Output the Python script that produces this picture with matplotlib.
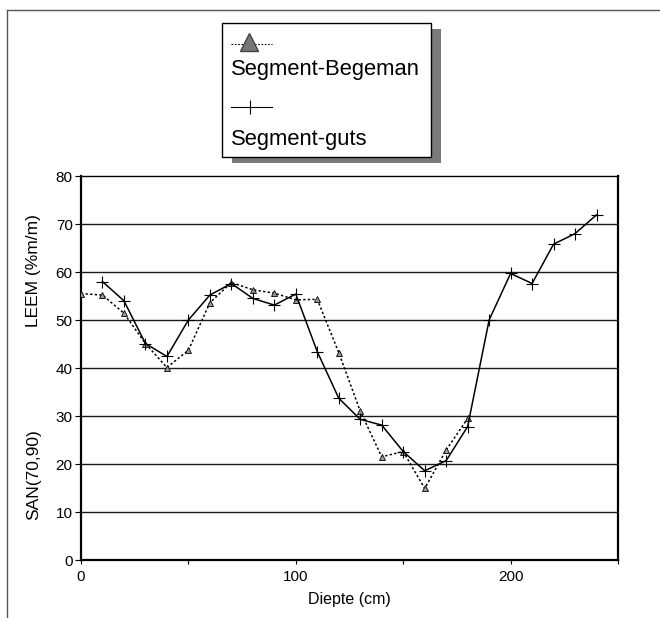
import matplotlib
matplotlib.use('Agg')
import matplotlib.pyplot as plt
from matplotlib.patches import Rectangle
from matplotlib.lines import Line2D
from matplotlib.transforms import blended_transform_factory

plt.rcParams['font.family'] = ['Liberation Sans', 'DejaVu Sans']

# Segment-Begeman (dotted, triangles)
depth_begeman = [0, 10, 20, 30, 40, 50, 60, 70, 80, 90, 100, 110, 120, 130, 140, 150, 160, 170, 180]
leem_begeman = [55.5, 55.2, 51.4, 45.1, 40.1, 43.7, 53.6, 57.8, 56.3, 55.6, 54.2, 54.3, 43.2, 31.0, 21.5, 22.6, 14.9, 22.9, 29.5]

# Segment-guts (solid, plus)
depth_guts = [10, 20, 30, 40, 50, 60, 70, 80, 90, 100, 110, 120, 130, 140, 150, 160, 170, 180, 190, 200, 210, 220, 230, 240]
leem_guts = [58.0, 54.0, 45.1, 42.4, 50.0, 55.2, 57.6, 54.5, 53.1, 55.4, 43.4, 33.7, 29.3, 28.1, 22.6, 18.6, 20.7, 27.8, 50.0, 59.7, 57.6, 65.8, 68.0, 71.9]

x_ticks = [0, 50, 100, 150, 200, 250]
x_ticklabels = ['0', '', '100', '', '200', '']
y_ticks = [0, 10, 20, 30, 40, 50, 60, 70, 80]

W, H = 660.0, 618.0
fig = plt.figure(figsize=(6.6, 6.18), dpi=100)
ax = fig.add_axes([81 / W, 1 - 560 / H, (618 - 81) / W, (560 - 176) / H])

for y in y_ticks[1:-1]:
    ax.axhline(y, color='#1a1a1a', lw=1.0, zorder=1)

ax.plot(depth_begeman, leem_begeman, color='black', lw=1.1, ls=(0, (1.5, 1.5)),
        marker='^', ms=5, mfc='#999999', mec='black', mew=0.6, zorder=3)
ax.plot(depth_guts, leem_guts, color='black', lw=1.1, ls='-',
        marker='+', ms=8, mew=0.8, zorder=3)

ax.set_xlim(0, 250)
ax.set_ylim(0, 80)
ax.set_xticks(x_ticks)
ax.set_xticklabels(x_ticklabels)
ax.set_yticks(y_ticks)
ax.tick_params(axis='x', direction='out', length=3, labelsize=11, pad=4)
ax.tick_params(axis='y', direction='out', length=4, labelsize=11, pad=2)
for s in ax.spines.values():
    s.set_linewidth(1.0)
ax.spines['left'].set_linewidth(1.6)
ax.spines['bottom'].set_linewidth(1.6)
ax.spines['right'].set_linewidth(1.6)
ax.set_xlabel('Diepte (cm)', fontsize=11.5, labelpad=6)

# two-part y label
trans = blended_transform_factory(ax.transAxes, ax.transData)
ax.text(-0.089, 60.2, 'LEEM (%m/m)', rotation=90, transform=trans, ha='center', va='center', fontsize=12.5)
ax.text(-0.089, 17.7, 'SAN(70,90)', rotation=90, transform=trans, ha='center', va='center', fontsize=12.5)

# page frame (left and top only)
fig.add_artist(Line2D([7 / W, 7 / W], [0, 1 - 10 / H], color='#555555', lw=1.0))
fig.add_artist(Line2D([7 / W, 1], [1 - 10 / H, 1 - 10 / H], color='#555555', lw=1.0))

# legend box with shadow
bx0, bx1, by0, by1 = 222, 431, 23, 157
fig.add_artist(Rectangle(((bx0 + 10) / W, 1 - (by1 + 6) / H), (bx1 - bx0) / W, (by1 - by0) / H,
                         facecolor='#7a7a7a', edgecolor='#7a7a7a', hatch='....', lw=0))
fig.add_artist(Rectangle((bx0 / W, 1 - by1 / H), (bx1 - bx0) / W, (by1 - by0) / H,
                         facecolor='white', edgecolor='black', lw=1.0))

fig.add_artist(Line2D([231 / W, 272 / W], [1 - 44 / H, 1 - 44 / H], color='black', lw=0.8, ls=(0, (1.5, 1.5))))
fig.add_artist(Line2D([249 / W], [1 - 42 / H], marker='^', ms=13, mfc='#777777', mec='#444444', ls='none'))
fig.text(231 / W, 1 - 69 / H, 'Segment-Begeman', fontsize=15.8, ha='left', va='center')
fig.add_artist(Line2D([231 / W, 272 / W], [1 - 107 / H, 1 - 107 / H], color='black', lw=0.8))
fig.add_artist(Line2D([250 / W], [1 - 107 / H], marker='|', ms=10, mec='black', mew=0.8, ls='none'))
fig.text(231 / W, 1 - 140 / H, 'Segment-guts', fontsize=15.8, ha='left', va='center')

fig.savefig('out.png', dpi=100)
